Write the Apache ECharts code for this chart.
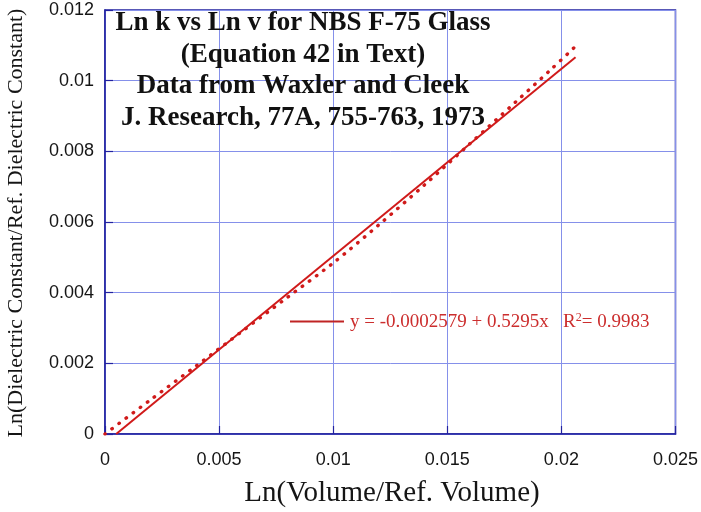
<!DOCTYPE html>
<html>
<head>
<meta charset="utf-8">
<script src="https://cdn.jsdelivr.net/npm/echarts@6/dist/echarts.min.js"></script>
<style>
html,body{margin:0;padding:0;background:#fff;}
#c{width:701px;height:512px;}
</style>
</head>
<body>
<div id="c"></div>
<script>
const dataX = [0, 0.002, 0.004, 0.006, 0.008, 0.010, 0.012, 0.014, 0.016, 0.018, 0.0196, 0.0206];
const dataY = [0, 0.00097, 0.00193, 0.00290, 0.00387, 0.00484, 0.00592, 0.00705, 0.00822, 0.00940, 0.01035, 0.01096];
// Fit line end points: y = -0.0002579 + 0.5295x
const fitX = [0.00049, 0.02062];
const fitY = [0, 0.01066];
const xTicks = [0, 0.005, 0.01, 0.015, 0.02, 0.025];
const yTicks = [0, 0.002, 0.004, 0.006, 0.008, 0.01, 0.012];

const titleLines = [
  'Ln k vs Ln v for NBS F-75 Glass',
  '(Equation 42 in Text)',
  'Data from Waxler and Cleek',
  'J. Research, 77A, 755-763, 1973'
];
const xTitle = 'Ln(Volume/Ref. Volume)';
const yTitle = 'Ln(Dielectric Constant/Ref. Dielectric Constant)';

const chart = echarts.init(document.getElementById('c'), null, {renderer: 'canvas'});
const axisBlue = '#2222a0';
const gridBlue = '#8590ea';
const red = '#d01a1a';

function fmt(v){ return String(+v.toFixed(6)); }

chart.setOption({
  animation: false,
  backgroundColor: '#ffffff',
  grid: {left: 105, right: 24, top: 10, bottom: 78, show: true, borderColor: axisBlue, borderWidth: 1.5, containLabel: false},
  xAxis: {
    type: 'value', min: xTicks[0], max: xTicks[xTicks.length-1], interval: 0.005,
    axisLine: {show: true, lineStyle: {color: axisBlue, width: 1.5}},
    axisTick: {show: true, inside: true, length: 8, lineStyle: {color: axisBlue, width: 1.2}},
    splitLine: {show: true, lineStyle: {color: gridBlue, width: 1, type: 'solid'}},
    axisLabel: {color: '#151515', fontSize: 18, fontFamily: '"Liberation Sans", Arial, sans-serif', margin: 17, formatter: fmt}
  },
  yAxis: {
    type: 'value', min: yTicks[0], max: yTicks[yTicks.length-1], interval: 0.002,
    axisLine: {show: true, lineStyle: {color: axisBlue, width: 1.5}},
    axisTick: {show: true, inside: true, length: 8, lineStyle: {color: axisBlue, width: 1.2}},
    splitLine: {show: true, lineStyle: {color: gridBlue, width: 1, type: 'solid'}},
    axisLabel: {color: '#151515', fontSize: 18, fontFamily: '"Liberation Sans", Arial, sans-serif', margin: 11, formatter: fmt}
  },
  series: [
    {
      type: 'line', name: 'data', showSymbol: false, smooth: 0.3,
      data: dataX.map((x, i) => [x, dataY[i]]),
      lineStyle: {color: red, width: 3.4, type: [0.5, 8.3], cap: 'round'},
      z: 3
    },
    {
      type: 'line', name: 'fit', showSymbol: false,
      data: fitX.map((x, i) => [x, fitY[i]]),
      lineStyle: {color: red, width: 2},
      z: 4
    }
  ],
  graphic: [
    {
      type: 'text', z: 10,
      style: {
        text: titleLines.join('\n'), x: 303, y: 7,
        font: 'bold 27px "Liberation Serif", "Times New Roman", serif',
        fill: '#111', align: 'center', verticalAlign: 'top', lineHeight: 31.7
      }
    },
    {
      type: 'line', z: 10,
      shape: {x1: 290, y1: 321.5, x2: 344, y2: 321.5},
      style: {stroke: '#c02424', lineWidth: 2}
    },
    {
      type: 'text', z: 10,
      style: {
        x: 350, y: 322,
        text: '{a|y = -0.0002579 + 0.5295x   R}{s|2}{a|= 0.9983}',
        verticalAlign: 'middle', align: 'left',
        rich: {
          a: {fontSize: 19, fontFamily: '"Liberation Serif", "Times New Roman", serif', fill: '#cc2e2e', color: '#cc2e2e', verticalAlign: 'middle'},
          s: {fontSize: 12, fontFamily: '"Liberation Serif", "Times New Roman", serif', fill: '#cc2e2e', color: '#cc2e2e', padding: [0, 0, 9, 0]}
        }
      }
    },
    {
      type: 'text', z: 10,
      style: {
        x: 392, y: 493, text: xTitle,
        font: '29px "Liberation Serif", "Times New Roman", serif',
        fill: '#151515', align: 'center', verticalAlign: 'middle'
      }
    },
    {
      type: 'text', z: 10, x: 16, y: 223, rotation: Math.PI / 2,
      style: {
        x: 0, y: 0, text: yTitle,
        font: '22px "Liberation Serif", "Times New Roman", serif',
        fill: '#151515', align: 'center', verticalAlign: 'middle'
      }
    }
  ]
});
</script>
</body>
</html>
